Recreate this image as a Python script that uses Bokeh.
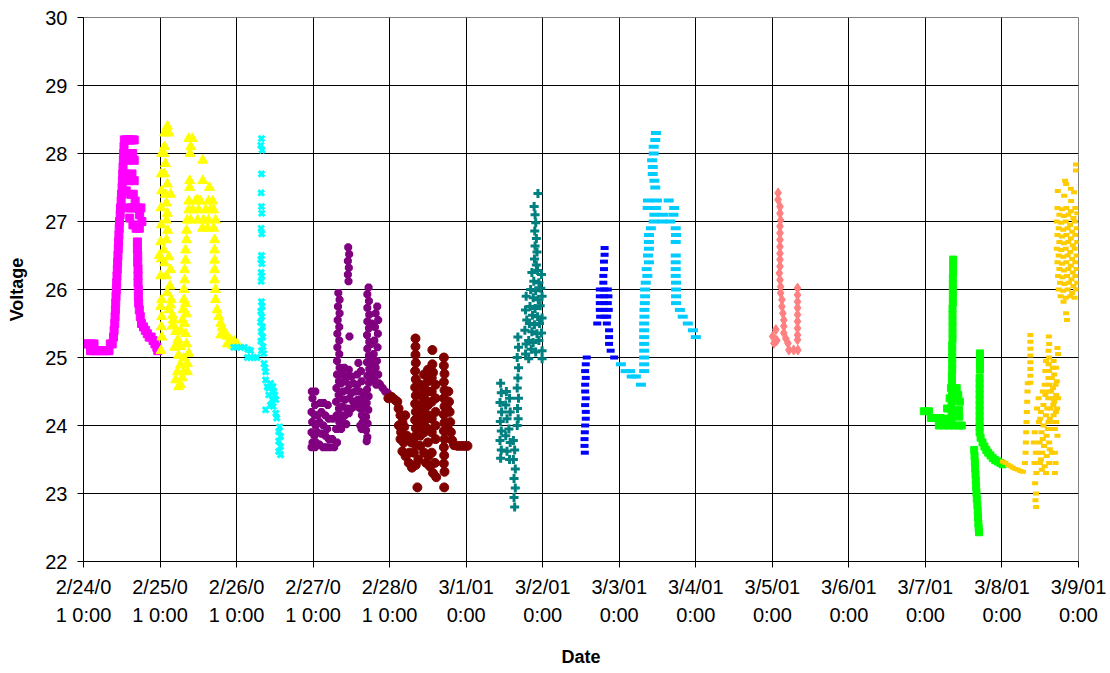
from bokeh.plotting import figure
from bokeh.models import FixedTicker
from bokeh.embed import file_html
from bokeh.resources import INLINE

# x values: hours since 2/24/01 0:00, y values: voltage
DAY_LABELS = ["2/24/0\n1 0:00", "2/25/0\n1 0:00", "2/26/0\n1 0:00", "2/27/0\n1 0:00",
              "2/28/0\n1 0:00", "3/1/01\n0:00", "3/2/01\n0:00", "3/3/01\n0:00",
              "3/4/01\n0:00", "3/5/01\n0:00", "3/6/01\n0:00", "3/7/01\n0:00",
              "3/8/01\n0:00", "3/9/01\n0:00"]
Y_TICKS = [22, 23, 24, 25, 26, 27, 28, 29, 30]

MAGENTA = [
    (0.5, 25.2), (1.5, 25.2), (2.5, 25.2), (3.3, 25.2),
    (2.2, 25.1), (3.2, 25.1), (4.2, 25.1), (5.2, 25.1), (6.2, 25.1), (7.2, 25.1), (8.0, 25.1),
    (8.4, 25.2), (9.0, 25.2), (9.4, 25.3),
    (9.6, 25.4), (9.8, 25.5), (9.9, 25.6), (10.0, 25.7), (10.1, 25.8), (10.2, 25.9), (10.3, 26.0),
    (10.4, 26.1), (10.5, 26.2), (10.6, 26.3), (10.7, 26.4), (10.8, 26.5), (10.9, 26.6), (11.0, 26.7),
    (11.1, 26.8), (11.2, 26.9), (11.3, 27.0), (11.5, 27.1), (11.6, 27.2), (11.8, 27.3), (11.9, 27.4),
    (12.1, 27.5), (12.2, 27.6), (12.3, 27.7), (12.4, 27.8), (12.5, 27.9), (12.6, 28.0), (12.7, 28.1),
    (12.8, 28.2), (13.4, 28.2), (14.0, 28.2), (14.6, 28.2), (15.3, 28.2), (15.9, 28.2),
    (13.0, 28.0), (13.8, 27.9), (14.6, 27.95), (15.4, 28.0), (15.9, 27.9),
    (13.2, 27.7), (14.2, 27.6), (15.2, 27.7), (15.9, 27.6),
    (13.4, 27.45), (14.8, 27.4), (15.6, 27.4), (16.2, 27.3),
    (14.0, 27.2), (15.0, 27.2), (16.0, 27.2), (17.0, 27.2), (18.0, 27.2),
    (14.5, 27.05), (15.5, 26.95), (16.5, 26.9), (17.5, 26.9), (18.3, 27.0), (17.6, 27.1),
    (16.9, 26.7), (16.9, 26.6), (17.0, 26.5), (17.0, 26.4), (17.1, 26.3), (17.1, 26.2), (17.1, 26.1),
    (17.2, 26.0), (17.2, 25.9), (17.3, 25.8), (17.5, 25.7), (17.8, 25.6), (18.2, 25.5), (18.8, 25.45),
    (19.4, 25.4), (20.0, 25.35), (20.6, 25.3), (21.2, 25.3), (21.8, 25.25), (22.4, 25.2), (23.0, 25.15),
    (23.3, 25.1),
]

YELLOW = [
    (23.8, 26.5), (24.2, 25.75), (24.4, 25.45), (24.6, 25.3), (24.3, 25.1), (24.5, 25.85), (24.5, 25.6),
    (24.5, 28.0), (24.4, 27.7), (24.5, 27.45), (24.3, 27.2), (24.4, 26.95), (24.2, 26.7), (24.4, 26.45),
    (24.2, 26.2),
    (26.3, 28.4), (25.4, 28.3), (26.8, 28.3), (25.4, 28.1), (25.2, 28.0), (25.7, 27.85), (25.4, 27.7),
    (26.3, 27.55), (25.7, 27.4), (27.3, 27.4), (26.0, 27.27), (26.3, 27.12), (26.0, 27.02), (26.4, 26.87),
    (26.0, 26.73), (25.2, 26.58), (26.8, 26.48), (25.4, 26.39), (27.3, 26.29), (26.0, 26.2), (27.1, 26.05),
    (26.3, 25.95), (27.5, 25.85), (26.8, 25.7), (28.1, 25.55), (27.8, 25.46), (28.9, 25.38),
    (27.3, 25.77), (27.9, 25.62), (28.2, 25.47),
    (28.6, 25.15), (29.5, 25.2), (30.4, 25.16), (29.8, 25.03), (31.4, 24.99), (30.4, 24.89), (32.6, 24.91),
    (29.5, 24.79), (31.4, 24.79), (28.9, 24.67), (30.4, 24.6), (29.8, 24.57), (32.6, 24.79), (31.0, 24.7),
    (32.0, 25.79), (32.3, 25.64), (31.7, 25.5), (32.0, 25.35), (32.3, 25.2), (33.0, 25.06),
    (34.1, 28.22), (33.0, 28.22), (33.6, 28.1), (33.4, 28.0), (33.3, 27.6), (33.3, 27.5), (33.0, 27.3),
    (33.0, 27.17), (32.5, 27.02), (32.3, 26.87), (32.3, 26.73), (32.0, 26.58), (32.0, 26.43), (31.7, 26.29),
    (31.7, 26.14), (31.5, 26.0), (31.5, 25.85), (31.2, 25.7), (31.0, 25.55), (30.4, 25.4), (29.6, 25.26),
    (29.4, 25.16),
    (35.1, 27.3), (36.7, 27.3), (39.2, 27.3), (40.5, 27.3), (35.7, 27.32),
    (34.2, 27.17), (36.1, 27.17), (38.3, 27.17), (39.8, 27.17), (40.8, 27.17),
    (33.6, 27.02), (35.8, 27.02), (37.6, 27.02), (39.2, 27.02), (41.4, 27.02),
    (37.3, 26.9), (38.9, 26.9), (40.8, 26.9),
    (37.4, 27.9), (37.4, 27.6), (39.5, 27.5),
    (41.1, 26.73), (41.1, 26.58), (41.1, 26.43), (41.1, 26.29), (41.1, 26.14), (41.4, 26.0), (41.4, 25.85),
    (41.9, 25.7), (42.4, 25.6), (43.0, 25.5), (43.5, 25.44), (44.0, 25.36), (45.1, 25.31), (46.1, 25.26),
    (47.2, 25.24), (48.2, 25.2), (43.0, 25.33), (45.1, 25.2), (46.6, 25.18), (47.7, 25.16),
]

CYAN = [
    (47.1, 25.15), (48.2, 25.15), (49.3, 25.15), (50.4, 25.15), (51.5, 25.12), (52.4, 25.1),
    (51.4, 25.0), (52.4, 25.0), (53.4, 25.0), (54.4, 25.0),
    (55.8, 28.22), (55.6, 28.12), (56.0, 28.05), (55.8, 27.7), (55.7, 27.42), (55.8, 27.22), (55.9, 27.12),
    (55.7, 26.9), (55.9, 26.82), (55.8, 26.5), (55.6, 26.44), (55.9, 26.38), (55.7, 26.25), (55.9, 26.2),
    (55.7, 26.12), (55.8, 25.82), (56.0, 25.75), (55.6, 25.68), (55.9, 25.6), (55.5, 25.52), (56.1, 25.45),
    (55.7, 25.38), (56.2, 25.3), (55.6, 25.24), (56.3, 25.16), (55.8, 25.1), (56.5, 25.06),
    (56.6, 24.91), (57.1, 24.79), (56.9, 24.85), (57.1, 24.67), (57.6, 24.57), (58.7, 24.62), (59.4, 24.57),
    (59.6, 24.5), (58.1, 24.45), (59.2, 24.38), (60.3, 24.38), (57.1, 24.23), (59.5, 24.28), (60.3, 24.18),
    (60.6, 24.11), (58.6, 24.3), (60.0, 24.45), (58.0, 24.55),
    (61.2, 23.91), (61.8, 23.84), (61.2, 23.77), (61.8, 23.69), (61.2, 23.62), (61.8, 23.57), (61.5, 23.98),
]

PURPLE = [
    (71.6, 24.5), (72.7, 24.5), (71.8, 24.4), (72.6, 24.3), (71.5, 24.2), (72.5, 24.15), (71.7, 24.05),
    (72.8, 24.0), (71.5, 23.9), (72.4, 23.85), (71.8, 23.75), (72.9, 23.75), (71.5, 23.68), (72.6, 23.68),
    (74.2, 24.33), (75.4, 24.33), (76.6, 24.3), (74.6, 24.2), (75.8, 24.15), (76.9, 24.1), (74.0, 24.05),
    (75.2, 24.0), (76.4, 23.95), (74.6, 23.88), (75.8, 23.85), (76.9, 23.8), (74.0, 23.72), (75.1, 23.68),
    (76.2, 23.68), (77.2, 23.68), (73.4, 23.9), (73.4, 24.15),
    (78.2, 24.1), (79.2, 23.95), (78.0, 23.8), (79.5, 23.75), (78.6, 23.68),
    (79.9, 25.95), (80.3, 25.85), (79.8, 25.75), (80.3, 25.65), (79.7, 25.55), (80.2, 25.45), (79.6, 25.35),
    (80.2, 25.25), (79.6, 25.15), (80.2, 25.05), (79.5, 24.95), (80.3, 24.85), (79.5, 24.75), (80.1, 24.65),
    (79.3, 24.55), (80.0, 24.45), (79.2, 24.35), (80.1, 24.25), (79.4, 24.15), (80.2, 24.05), (79.5, 23.95),
    (83.0, 26.62), (83.3, 26.52), (82.9, 26.42), (83.2, 26.32), (82.9, 26.22), (83.1, 26.12), (83.4, 25.31),
    (81.8, 24.85), (83.2, 24.82), (81.2, 24.75), (82.6, 24.72), (84.0, 24.72), (85.8, 24.75), (87.0, 24.8),
    (86.2, 24.92), (80.8, 24.62), (82.0, 24.65), (83.4, 24.6), (84.6, 24.62), (85.8, 24.6), (87.2, 24.65),
    (81.4, 24.5), (82.8, 24.52), (84.0, 24.48), (85.2, 24.5), (86.6, 24.5), (87.8, 24.45),
    (80.6, 24.4), (82.0, 24.38), (83.4, 24.4), (84.6, 24.35), (86.0, 24.38), (87.3, 24.35),
    (81.2, 24.28), (82.6, 24.25), (84.0, 24.25), (85.4, 24.28), (86.8, 24.25), (88.0, 24.25),
    (80.8, 24.15), (82.0, 24.15), (83.2, 24.18), (87.3, 24.15),
    (81.4, 24.05), (82.4, 24.02), (87.6, 24.05), (86.8, 24.0), (80.8, 23.95), (87.2, 23.95),
    (89.4, 26.03), (89.0, 25.93), (89.5, 25.83), (89.0, 25.73), (89.6, 25.63), (89.0, 25.53), (89.5, 25.43),
    (88.9, 25.33), (89.6, 25.23), (89.0, 25.13), (89.5, 25.03), (88.9, 24.93), (89.6, 24.83), (89.0, 24.73),
    (89.5, 24.63), (88.9, 24.53), (89.4, 24.43), (88.8, 24.33), (89.3, 24.23), (88.6, 24.13), (89.1, 24.03),
    (88.6, 23.93), (89.0, 23.83), (88.8, 23.77),
    (92.1, 25.75), (91.6, 25.65), (92.4, 25.55), (91.4, 25.45), (92.3, 25.35), (91.2, 25.25), (92.2, 25.15),
    (91.0, 25.05), (92.0, 24.95), (90.8, 24.9), (91.6, 24.85), (90.6, 24.78), (92.4, 24.75), (91.2, 24.7),
    (92.6, 24.62), (91.8, 24.6), (90.4, 24.68), (90.3, 25.5), (90.2, 25.2), (90.4, 24.95),
    (93.0, 24.6), (93.8, 24.55), (94.6, 24.5), (95.4, 24.48),
]

MAROON = [
    (95.6, 24.4), (96.6, 24.42), (97.6, 24.38), (98.4, 24.35),
    (98.8, 24.25), (99.4, 24.15), (100.0, 24.05), (100.6, 23.98), (99.6, 23.9), (98.9, 24.0), (100.9, 24.15),
    (99.4, 23.8), (100.4, 23.75), (101.4, 23.85), (100.0, 23.62), (101.0, 23.55), (102.2, 23.6), (102.8, 23.75),
    (102.0, 23.45), (103.0, 23.38), (104.2, 23.42), (105.0, 23.5), (103.6, 23.6),
    (104.1, 25.28), (104.1, 25.16), (104.1, 25.04), (104.2, 24.92), (104.0, 24.8), (104.2, 24.68),
    (104.0, 24.56), (104.2, 24.44), (104.0, 24.32), (104.2, 24.2), (104.0, 24.08), (104.2, 23.96),
    (104.0, 23.84), (104.1, 23.72), (104.7, 23.09),
    (105.6, 24.6), (105.6, 24.45), (105.6, 24.3), (105.6, 24.15), (105.6, 24.0), (105.6, 23.85), (105.6, 23.7),
    (106.8, 24.75), (106.8, 24.55), (106.8, 24.4), (106.8, 24.2), (106.8, 24.05), (106.8, 23.9), (106.8, 23.6),
    (108.0, 24.82), (108.0, 24.65), (108.0, 24.5), (108.0, 24.3), (108.0, 24.15), (108.0, 23.95), (108.0, 23.75),
    (109.2, 24.7), (109.2, 24.5), (109.2, 24.35), (109.2, 24.1), (109.2, 23.9), (109.2, 23.6),
    (110.4, 24.6), (110.4, 24.4), (110.4, 24.2), (110.4, 24.0), (110.4, 23.8),
    (107.4, 23.45), (108.6, 23.4), (109.6, 23.3), (110.6, 23.24), (110.2, 23.45), (108.2, 23.55),
    (109.4, 25.11), (109.4, 24.9), (109.6, 24.78),
    (113.0, 25.0), (113.0, 24.88), (113.2, 24.76), (113.0, 24.64), (113.2, 24.52), (113.0, 24.4),
    (113.2, 24.28), (113.0, 24.16), (113.2, 24.04), (113.0, 23.92), (113.2, 23.8), (113.0, 23.68),
    (113.1, 23.56), (113.0, 23.44), (113.2, 23.32), (113.1, 23.09),
    (114.4, 24.5), (114.6, 24.35), (114.8, 24.2), (115.0, 24.05), (115.2, 23.9), (115.6, 23.78),
    (114.2, 23.95), (114.0, 24.25),
    (116.2, 23.71), (117.3, 23.7), (118.4, 23.7), (119.4, 23.7), (120.4, 23.7),
]

TEAL = [
    (142.5, 27.41),
    (141.3, 27.22), (141.6, 27.1), (141.8, 26.98), (141.5, 26.86), (142.0, 26.75), (141.6, 26.64),
    (142.2, 26.55), (141.4, 26.45), (142.0, 26.36),
    (140.6, 26.25), (142.4, 26.28), (143.6, 26.22), (141.2, 26.12), (142.8, 26.1),
    (140.2, 26.0), (141.8, 25.98), (143.4, 26.02), (141.0, 25.88), (142.6, 25.85), (143.8, 25.9),
    (140.0, 25.75), (141.6, 25.72), (143.2, 25.76), (140.8, 25.62), (142.4, 25.6), (143.8, 25.58),
    (139.8, 25.5), (141.4, 25.48), (143.0, 25.5), (140.6, 25.38), (142.2, 25.35), (143.6, 25.36),
    (139.6, 25.25), (141.0, 25.22), (142.8, 25.25), (140.4, 25.12), (143.8, 25.1), (141.8, 25.08),
    (139.6, 24.98), (143.8, 24.98),
    (138.8, 25.9), (138.6, 25.7), (139.0, 25.55), (138.4, 25.4), (138.8, 25.2), (138.6, 25.05),
    (136.2, 25.3), (136.4, 25.15), (136.0, 25.0), (136.4, 24.85), (136.2, 24.7), (136.0, 24.55),
    (136.4, 24.4), (136.1, 24.25), (136.3, 24.1), (136.0, 24.0),
    (130.8, 24.62), (131.0, 24.48), (130.6, 24.34), (131.1, 24.2), (130.7, 24.06), (131.0, 23.92),
    (130.6, 23.78), (131.0, 23.64), (130.8, 23.52),
    (132.6, 24.5), (133.6, 24.4), (132.4, 24.3), (133.8, 24.2), (132.8, 24.1), (133.4, 23.95),
    (132.4, 23.85), (133.8, 23.75), (132.8, 23.62), (133.6, 23.5),
    (134.8, 23.78), (135.2, 23.64), (134.8, 23.5), (135.4, 23.36), (135.0, 23.22), (135.4, 23.08),
    (135.0, 22.94), (135.2, 22.8),
]

BLUE = [
    (157.8, 25.0), (157.5, 24.9), (157.3, 24.8), (157.5, 24.7), (157.3, 24.6), (157.3, 24.5), (157.5, 24.4),
    (157.3, 24.3), (157.5, 24.2), (157.5, 24.1), (157.3, 24.0), (157.2, 23.9), (157.1, 23.8), (157.1, 23.7),
    (157.2, 23.6),
    (163.4, 26.61), (163.4, 26.51), (163.2, 26.41), (163.2, 26.3), (163.0, 26.2), (163.0, 26.1),
    (161.9, 26.0), (163.3, 26.0), (164.4, 26.0), (161.9, 25.9), (163.3, 25.9), (164.6, 25.9),
    (161.9, 25.8), (163.3, 25.8), (164.4, 25.8), (161.9, 25.7), (163.3, 25.7), (164.7, 25.7),
    (162.0, 25.6), (163.4, 25.6), (164.2, 25.6), (161.1, 25.5), (164.1, 25.5),
    (164.8, 25.4), (164.8, 25.3), (164.8, 25.2), (165.3, 25.1), (166.4, 25.0),
]

LIGHTBLUE = [
    (168.5, 24.9), (170.0, 24.8), (171.4, 24.8), (171.9, 24.72), (173.2, 24.72), (174.8, 24.6),
    (175.8, 24.8), (175.8, 24.9), (175.8, 25.0), (175.8, 25.1), (175.8, 25.2), (175.8, 25.3), (175.8, 25.4),
    (175.8, 25.5), (175.9, 25.6), (175.9, 25.7), (176.0, 25.8), (176.1, 25.9), (176.1, 26.0), (176.3, 26.1),
    (176.8, 26.2), (176.6, 26.3), (177.3, 26.4), (177.0, 26.5), (177.3, 26.6), (177.3, 26.7), (177.3, 26.8),
    (177.9, 26.9),
    (178.8, 27.0), (181.5, 27.0), (184.0, 27.0), (179.0, 27.1), (181.8, 27.1), (185.0, 27.1),
    (176.9, 27.2), (179.5, 27.2), (185.2, 27.2), (177.0, 27.31), (179.8, 27.31), (183.5, 27.31),
    (179.5, 28.3), (179.3, 28.2), (178.8, 28.1), (178.8, 28.0), (178.3, 27.9), (178.5, 27.8), (178.5, 27.7),
    (179.0, 27.6), (179.3, 27.5),
    (185.7, 26.9), (185.8, 26.8), (185.7, 26.7), (185.7, 26.5), (185.7, 26.4), (185.7, 26.3), (185.7, 26.2),
    (185.8, 26.1), (185.8, 26.0), (185.8, 25.9), (185.8, 25.8),
    (187.0, 25.7), (187.9, 25.6), (189.5, 25.5), (191.1, 25.4), (192.0, 25.3),
]

SALMON = [
    (217.8, 27.42), (217.8, 27.32), (218.4, 27.22), (218.4, 27.12), (218.6, 27.02), (218.4, 26.93),
    (218.4, 26.83), (218.4, 26.73), (218.4, 26.63), (218.4, 26.53), (218.4, 26.44), (218.4, 26.34),
    (218.2, 26.24), (218.4, 26.14), (218.6, 26.04), (218.6, 25.95), (219.0, 25.85), (219.0, 25.75),
    (219.3, 25.65), (219.6, 25.55), (219.6, 25.46), (217.1, 25.41), (219.6, 25.36), (216.1, 25.31),
    (216.5, 25.21), (217.4, 25.25), (220.2, 25.28), (220.9, 25.21), (221.2, 25.11), (222.7, 25.11),
    (224.0, 25.11),
    (223.9, 26.02), (223.9, 25.92), (223.9, 25.82), (223.9, 25.73), (223.9, 25.63), (223.9, 25.53),
    (223.9, 25.43), (223.9, 25.33), (223.9, 25.26),
]

GREEN = [
    (263.5, 24.21), (265.1, 24.21), (265.7, 24.11), (267.3, 24.11), (268.8, 24.11), (268.2, 24.0),
    (269.8, 24.0), (271.4, 24.0), (272.9, 24.0), (274.5, 24.0), (275.4, 24.0),
    (274.5, 24.23), (274.6, 24.13), (271.0, 24.1), (270.8, 24.25), (274.8, 24.35), (271.6, 24.4),
    (274.3, 24.45), (272.0, 24.55), (273.8, 24.55),
    (272.7, 26.44), (272.7, 26.35), (272.7, 26.26), (272.6, 26.17), (272.6, 26.08), (272.6, 25.99),
    (272.6, 25.9), (272.6, 25.81), (272.5, 25.72), (272.5, 25.63), (272.5, 25.54), (272.5, 25.45),
    (272.5, 25.36), (272.5, 25.27), (272.4, 25.18), (272.4, 25.09), (272.4, 25.0), (272.4, 24.91),
    (272.4, 24.82), (272.3, 24.73), (272.3, 24.64), (272.3, 24.55), (272.3, 24.46), (272.3, 24.37),
    (272.2, 24.28), (272.2, 24.19), (272.2, 24.1),
    (281.1, 25.06), (281.1, 24.98), (281.1, 24.9), (281.1, 24.82),
    (281.0, 24.7), (281.0, 24.62), (281.0, 24.54), (281.0, 24.46), (281.0, 24.38), (281.0, 24.3),
    (281.0, 24.22), (281.0, 24.14), (281.0, 24.06), (281.0, 23.98), (281.0, 23.9),
    (281.3, 23.82), (281.9, 23.75), (282.5, 23.69), (283.1, 23.64), (283.7, 23.6), (284.4, 23.56),
    (285.1, 23.52), (285.9, 23.49), (286.7, 23.47), (287.5, 23.45), (288.2, 23.43),
    (279.3, 23.64), (279.4, 23.55), (279.5, 23.46), (279.6, 23.37), (279.7, 23.28), (279.8, 23.19),
    (279.9, 23.1), (280.0, 23.01), (280.1, 22.92), (280.3, 22.83), (280.4, 22.74), (280.5, 22.65),
    (280.6, 22.56), (280.7, 22.49), (280.8, 22.43),
]

ORANGE = [
    (288.3, 23.47), (289.1, 23.45), (289.9, 23.42), (290.7, 23.4), (291.4, 23.38), (292.2, 23.36),
    (293.0, 23.35), (293.8, 23.33), (294.6, 23.32),
    (295.2, 23.45), (295.4, 23.6), (295.5, 23.75), (295.6, 23.9), (295.7, 24.05), (295.8, 24.2),
    (295.9, 24.35), (296.0, 24.5), (296.1, 24.62),
    (296.9, 25.33), (296.9, 25.23), (296.9, 25.13), (296.9, 25.03), (296.9, 24.93), (296.9, 24.83),
    (296.9, 24.73), (296.9, 24.63),
    (298.3, 23.9), (298.0, 23.75), (298.6, 23.6), (298.2, 23.45), (298.8, 23.3), (298.4, 23.15),
    (298.7, 23.0), (298.5, 22.9), (298.7, 22.8),
    (299.5, 24.4), (301.0, 24.3), (302.5, 24.4), (300.2, 24.2), (301.8, 24.15), (303.2, 24.25),
    (299.6, 24.05), (301.0, 24.0), (302.6, 24.05), (300.4, 23.9), (302.0, 23.85), (303.5, 23.95),
    (299.8, 23.75), (301.2, 23.7), (302.8, 23.75), (300.6, 23.6), (302.0, 23.55), (303.6, 23.6),
    (299.9, 23.45), (301.4, 23.4), (302.8, 23.45), (300.5, 23.35),
    (299.0, 24.25), (299.2, 23.6), (300.0, 24.1), (300.8, 23.8), (301.6, 24.45), (302.2, 24.25),
    (302.4, 23.95), (303.0, 24.1), (303.8, 24.4), (303.0, 23.65), (300.2, 23.5), (301.8, 23.3),
    (302.7, 25.31), (302.8, 25.2), (302.6, 25.1), (302.8, 25.0), (302.6, 24.9), (302.8, 24.8),
    (302.6, 24.7), (302.8, 24.6), (302.7, 24.5),
    (304.2, 24.95), (305.0, 24.85), (304.4, 24.75), (305.2, 24.65), (304.0, 24.55), (305.0, 24.45),
    (304.4, 24.35), (305.3, 24.25), (304.2, 24.15), (305.0, 24.05), (304.6, 23.95), (305.4, 23.85),
    (305.4, 25.14), (305.6, 25.05), (303.6, 24.7), (303.4, 24.5), (303.9, 24.85), (304.8, 24.6),
    (304.1, 24.3), (304.9, 24.2), (303.8, 24.05), (305.6, 24.4),
    (304.6, 23.6), (304.8, 23.45), (304.6, 23.3),
    (301.6, 24.8), (301.4, 24.6), (300.8, 24.5), (301.8, 24.95),
    (311.2, 27.84), (311.2, 27.75), (308.1, 27.55), (305.5, 27.45), (307.5, 27.38), (310.6, 27.43),
    (309.7, 27.3), (307.8, 27.6), (309.6, 27.48),
    (305.4, 27.2), (306.8, 27.18), (308.2, 27.2), (309.6, 27.15), (311.0, 27.2),
    (306.0, 27.1), (307.4, 27.08), (308.8, 27.1), (310.4, 27.05), (311.6, 27.12),
    (305.2, 27.0), (306.6, 26.98), (308.0, 27.0), (309.4, 26.95), (310.8, 27.0),
    (305.8, 26.9), (307.2, 26.88), (308.6, 26.9), (310.0, 26.85), (311.4, 26.9),
    (305.4, 26.8), (306.8, 26.78), (308.2, 26.8), (309.6, 26.75), (311.0, 26.8),
    (306.0, 26.7), (307.4, 26.68), (308.8, 26.7), (310.2, 26.65), (311.6, 26.7),
    (305.2, 26.6), (306.6, 26.58), (308.0, 26.6), (309.4, 26.55), (310.8, 26.6),
    (305.8, 26.5), (307.2, 26.48), (308.6, 26.5), (310.0, 26.45), (311.4, 26.5),
    (305.4, 26.4), (306.8, 26.38), (308.2, 26.4), (309.6, 26.35), (311.0, 26.4),
    (306.0, 26.3), (307.4, 26.28), (308.8, 26.3), (310.2, 26.25), (311.4, 26.3),
    (305.6, 26.2), (307.0, 26.18), (308.4, 26.2), (309.8, 26.15), (311.0, 26.2),
    (306.2, 26.1), (307.6, 26.08), (309.0, 26.1), (310.4, 26.05), (311.6, 26.1),
    (305.8, 26.0), (307.2, 25.98), (308.6, 26.0), (310.0, 25.95), (311.2, 26.0),
    (306.4, 25.9), (308.0, 25.88), (309.4, 25.9), (310.8, 25.88),
    (307.3, 25.82), (308.1, 25.65), (308.4, 25.55),
]

FONT = "Liberation Sans"

p = figure(width=1110, height=673, x_range=(0, 312), y_range=(22, 30),
           output_backend="svg", toolbar_location=None,
           min_border_left=83, min_border_right=32, min_border_top=17, min_border_bottom=112)
p.background_fill_color = "white"
p.border_fill_color = "white"
p.outline_line_color = "#808080"
p.outline_line_width = 1

# series: data, marker, color, size, line width (0 => filled)
SERIES = [
    (MAGENTA, "square", "#FF00FF", 8, 0),
    (YELLOW, "triangle", "#FFFF00", 10, 0),
    (CYAN, "x", "#00FFFF", 8, 3),
    (PURPLE, "asterisk", "#800080", 8, 3),
    (MAROON, "circle", "#800000", 9, 0),
    (TEAL, "cross", "#008080", 9, 3),
    (BLUE, "dash", "#0000FF", 8, 4),
    (LIGHTBLUE, "dash", "#00CCFF", 10, 4),
    (SALMON, "diamond", "#FF8080", 10, 0),
    (GREEN, "square", "#00FF00", 7, 0),
    (ORANGE, "dash", "#FFCC00", 6, 4),
]
for data, marker, color, size, lw in SERIES:
    xs = [d[0] for d in data]
    ys = [d[1] for d in data]
    if lw == 0:
        p.scatter(xs, ys, marker=marker, size=size, fill_color=color, line_color=color, line_width=1)
    else:
        p.scatter(xs, ys, marker=marker, size=size, line_color=color, line_width=lw)

xt = [24 * i for i in range(len(DAY_LABELS))]
p.xaxis.ticker = FixedTicker(ticks=xt)
p.xaxis.major_label_overrides = {t: lab for t, lab in zip(xt, DAY_LABELS)}
p.yaxis.ticker = FixedTicker(ticks=Y_TICKS)
p.xgrid.ticker = FixedTicker(ticks=xt)
p.ygrid.ticker = FixedTicker(ticks=Y_TICKS)

for g in (p.xgrid, p.ygrid):
    g.grid_line_color = "black"
    g.grid_line_width = 1
    g.grid_line_alpha = 1.0

for ax in (p.xaxis, p.yaxis):
    ax.axis_line_color = "black"
    ax.axis_line_width = 1
    ax.major_tick_line_color = "black"
    ax.major_tick_in = 0
    ax.major_tick_out = 6
    ax.minor_tick_line_color = None
    ax.major_label_text_font = FONT
    ax.major_label_text_font_size = "20px"
    ax.major_label_text_color = "black"
    ax.axis_label_text_font = FONT
    ax.axis_label_text_font_size = "18px"
    ax.axis_label_text_font_style = "bold"
    ax.axis_label_text_color = "black"

p.xaxis.axis_label = "Date"
p.yaxis.axis_label = "Voltage"
p.xaxis.major_label_standoff = 8
p.xaxis.major_label_text_line_height = 1.3
p.xaxis.axis_label_standoff = 18
p.yaxis.major_label_standoff = 10
p.yaxis.axis_label_standoff = 15

open("out.html", "w").write(file_html(p, INLINE))
